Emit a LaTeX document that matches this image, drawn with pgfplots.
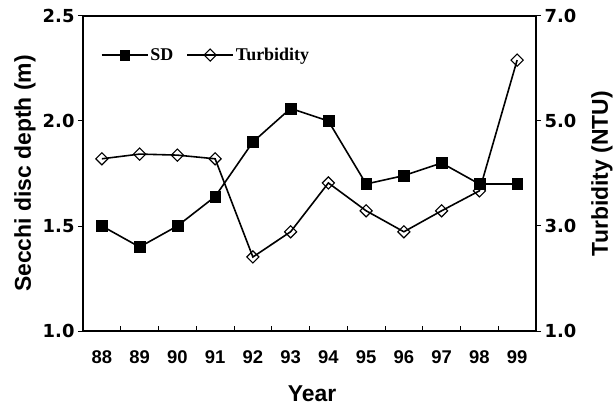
\documentclass[border=0pt]{standalone}
\usepackage{fontspec}
\setmainfont{Liberation Sans}
\newfontfamily\legendfont{Liberation Serif}
\newfontfamily\ytickfont{DejaVu Sans}
\usepackage{pgfplots}
\usepackage{pgfplotstable}
\pgfplotsset{compat=1.18}

% year index, Secchi disc depth (m), turbidity (NTU)
\pgfplotstableread{
idx sd   turb
0   1.50 4.28
1   1.40 4.37
2   1.50 4.35
3   1.64 4.28
4   1.90 2.41
5   2.06 2.89
6   2.00 3.82
7   1.70 3.29
8   1.74 2.89
9   1.80 3.29
10  1.70 3.67
11  1.70 6.16
}\datatable

\pgfplotsset{
  common/.style={
    scale only axis, width=453bp, height=315bp,
    at={(0,0)}, anchor=south west,
    xmin=-0.5, xmax=11.5,
    axis line style={line width=1.5bp},
    major tick length=5bp,
    every tick/.style={line width=1bp, black},
    label style={font=\bfseries\fontsize{23}{23}\selectfont},
  },
  sdstyle/.style={black, line width=1.6bp, mark=square*, mark size=5.4bp,
    mark options={fill=black, line width=0.4bp}},
  turbstyle/.style={black, line width=1.6bp, mark=square, mark size=4.3bp,
    mark options={fill=white, rotate=45, line width=1.1bp}},
}

\begin{document}
\begin{tikzpicture}
\useasboundingbox (-83bp,-76bp) rectangle (532bp,331bp);

% left axis: Secchi disc depth, with the frame and year labels
\begin{axis}[common,
  ymin=1, ymax=2.5,
  ytick={1,1.5,2,2.5}, yticklabels={1.0,1.5,2.0,2.5},
  ytick pos=left, tick align=outside,
  xtick={0,...,11}, xticklabels={88,89,90,91,92,93,94,95,96,97,98,99},
  xtick pos=bottom, xtick style={draw=none},
  yticklabel style={font=\ytickfont\bfseries\fontsize{18}{18}\selectfont},
  xticklabel style={font=\bfseries\fontsize{18.5}{18.5}\selectfont, yshift=-11bp},
  xlabel={Year}, ylabel={Secchi disc depth (m)},
  xlabel style={at={(axis description cs:0.5055,-0.2)}, anchor=center},
  ylabel style={at={(axis description cs:-0.128,0.5)}, anchor=center},
]
\addplot[sdstyle] table[x=idx, y=sd] {\datatable};
\end{axis}

% right axis: turbidity
\begin{axis}[common,
  ymin=1, ymax=7,
  axis x line=none, axis y line*=right,
  ytick={1,3,5,7}, yticklabels={1.0,3.0,5.0,7.0},
  tick align=outside,
  yticklabel style={font=\ytickfont\bfseries\fontsize{18}{18}\selectfont},
  ylabel={Turbidity (NTU)},
  ylabel style={at={(axis description cs:1.1457,0.5)}, anchor=center},
  legend columns=-1,
  legend image code/.code={\draw[mark repeat=2, mark phase=2, #1]
    plot coordinates {(0bp,0bp) (23bp,0bp) (46bp,0bp)};},
  legend style={draw=none, fill=none, inner sep=0pt,
    at={(axis description cs:0.039,0.876)}, anchor=west,
    font=\legendfont\bfseries\fontsize{18}{18}\selectfont,
    /tikz/every even column/.append style={column sep=11bp}},
]
\addlegendimage{sdstyle, mark size=4.8bp}
\addlegendentry{SD}
\addplot[turbstyle] table[x=idx, y=turb] {\datatable};
\addlegendentry{Turbidity}
\end{axis}

% category separators along the year axis
\begin{axis}[common,
  ymin=0, ymax=1,
  axis y line=none, axis x line*=bottom,
  xtick={0.5,1.5,...,10.5}, xticklabels={},
  tick align=inside,
]
\end{axis}
\end{tikzpicture}
\end{document}
